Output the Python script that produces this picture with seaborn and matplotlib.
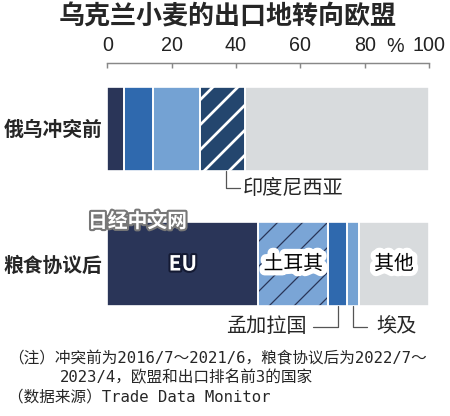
import numpy as np
import pandas as pd
import matplotlib
matplotlib.use("Agg")
import matplotlib.pyplot as plt
import matplotlib.patheffects as pe
from matplotlib.patches import Rectangle
import seaborn as sns

# data (share of Ukrainian wheat exports, %)
periods = ["俄乌冲突前", "粮食协议后"]
segments_pre = ["EU", "第2", "第3", "印度尼西亚", "其他"]
values_pre = [5.1, 9.2, 14.5, 13.9, 57.3]
segments_post = ["EU", "土耳其", "孟加拉国", "埃及", "其他"]
values_post = [47.0, 21.6, 6.0, 3.6, 21.8]
xticks = [0, 20, 40, 60, 80, 100]

title = "乌克兰小麦的出口地转向欧盟"
note1 = "（注）冲突前为2016/7～2021/6，粮食协议后为2022/7～"
note2 = "2023/4，欧盟和出口排名前3的国家"
source = "（数据来源）Trade Data Monitor"

# styles
NAVY = "#2a3558"
BLUE = "#2f69ae"
LIGHT = "#74a2d3"
HATCHNAVY = "#24466e"
TURKEY = "#7aa5d6"
GREY = "#d8dbdd"
style_pre = [(NAVY, None, NAVY), (BLUE, None, BLUE), (LIGHT, None, LIGHT),
             (HATCHNAVY, "//", "white"), (GREY, None, GREY)]
style_post = [(NAVY, None, NAVY), (TURKEY, "//", NAVY), (BLUE, None, BLUE),
              (LIGHT, None, LIGHT), (GREY, None, GREY)]

sns.set_style("white")
plt.rcParams["font.family"] = ["Noto Sans CJK SC", "DejaVu Sans"]

fig = plt.figure(figsize=(3.0, 416 / 150), dpi=150)
ax = fig.add_axes([107.3 / 450, 1 - 331.7 / 416, 321.7 / 450, 268.4 / 416])

df = pd.DataFrame({
    "period": [periods[0]] * 5 + [periods[1]] * 5,
    "segment": segments_pre + segments_post,
    "value": values_pre + values_post,
})
df["cum"] = df.groupby("period")["value"].cumsum()
df["start"] = df["cum"] - df["value"]

BAR_W = 0.62
for p, styles in zip(periods, [style_pre, style_post]):
    sub = df[df["period"] == p].reset_index(drop=True)
    for k in reversed(range(len(sub))):
        face, hatch, edge = styles[k]
        n0 = len(ax.patches)
        plt.rcParams["hatch.linewidth"] = 1.3 if edge == "white" else 0.6
        sns.barplot(x=[sub.loc[k, "cum"]], y=[p], order=periods, orient="h",
                    color=face, saturation=1, width=BAR_W, errorbar=None,
                    hatch=hatch, edgecolor=edge, linewidth=0, ax=ax)
        for patch in ax.patches[n0:]:
            if hasattr(patch, "set_hatch_linewidth"):
                patch.set_hatch_linewidth(1.3 if edge == "white" else 0.6)

# white gaps between segments
for _, r in df.iterrows():
    yi = periods.index(r["period"])
    ax.add_patch(Rectangle((r["start"], yi - BAR_W / 2), r["value"], BAR_W,
                           fill=False, ec="white", lw=0.8, zorder=3))

ax.set_xlim(0, 100)
ax.set_ylim(1.5, -0.483)
ax.xaxis.tick_top()
ax.set_xticks(xticks)
ax.set_xticklabels([str(t) for t in xticks],
                   family=["Liberation Sans Narrow", "Liberation Sans"], fontsize=9.5)
ax.tick_params(axis="x", direction="in", length=2.6, width=0.7, color="#888888",
               pad=4, labelcolor="#222222")
ax.tick_params(axis="y", length=0, pad=2.5)
for lbl in ax.get_yticklabels():
    lbl.set_fontsize(9.5)
    lbl.set_fontweight("bold")
ax.set_xlabel("")
ax.set_ylabel("")
for s in ["right", "bottom", "left"]:
    ax.spines[s].set_visible(False)
ax.spines["top"].set_color("#888888")
ax.spines["top"].set_linewidth(0.7)

fig.text(395 / 450, 1 - 47 / 416, "%", ha="center", va="center",
         family=["Liberation Sans Narrow", "Liberation Sans"], fontsize=9.5, color="#222222")

# labels inside bars
post = df[df["period"] == periods[1]].set_index("segment")
mid = post["start"] + post["value"] / 2
ax.text(mid["EU"], 1, "EU", ha="center", va="center", color="white", fontsize=10,
        fontweight="bold", zorder=5,
        path_effects=[pe.withStroke(linewidth=2, foreground="#141a33")])
for seg in ["土耳其", "其他"]:
    ax.text(mid[seg], 1, seg, ha="center", va="center", color="black", fontsize=9.5,
            zorder=5, path_effects=[pe.withStroke(linewidth=5, foreground="white")])

# leader labels
LC = "#555555"
pre = df[df["period"] == periods[0]].set_index("segment")
bot0 = 0 + BAR_W / 2
cx = pre.loc["印度尼西亚", "start"] + pre.loc["印度尼西亚", "value"] / 2 + 1.2
dy = 0.13
ax.plot([cx, cx, cx + 4.3], [bot0, bot0 + dy, bot0 + dy], color=LC, lw=0.6,
        clip_on=False, zorder=4)
ax.text(cx + 5.3, bot0 + dy, "印度尼西亚", ha="left", va="center", fontsize=9.7)

bot1 = 1 + BAR_W / 2
dy = 0.153
cx = mid["孟加拉国"]
ax.plot([cx, cx, cx - 7.8], [bot1, bot1 + dy, bot1 + dy], color=LC, lw=0.6,
        clip_on=False, zorder=4)
ax.text(cx - 9.7, bot1 + dy, "孟加拉国", ha="right", va="center", fontsize=9.7)
cx = mid["埃及"]
ax.plot([cx, cx, cx + 4.4], [bot1, bot1 + dy, bot1 + dy], color=LC, lw=0.6,
        clip_on=False, zorder=4)
ax.text(cx + 7.2, bot1 + dy, "埃及", ha="left", va="center", fontsize=9.7)

# title, watermark, notes
fig.text(0.507, 1 - 17 / 416, title, ha="center", va="center", fontsize=12.5,
         fontweight="bold")
fig.text(88 / 450, 1 - 222 / 416, "日经中文网", ha="left", va="center", fontsize=9.5,
         fontweight="bold", color="white", zorder=6,
         path_effects=[pe.withStroke(linewidth=2, foreground="#777777")])
nfam = ["DejaVu Sans Mono", "Noto Sans CJK SC"]
fig.text(8 / 450, 1 - 359 / 416, note1, ha="left", va="center", fontsize=7.5, family=nfam)
fig.text(60 / 450, 1 - 378 / 416, note2, ha="left", va="center", fontsize=7.5, family=nfam)
fig.text(8 / 450, 1 - 397 / 416, source, ha="left", va="center", fontsize=7.5, family=nfam)

fig.savefig("out.png", dpi=150)
